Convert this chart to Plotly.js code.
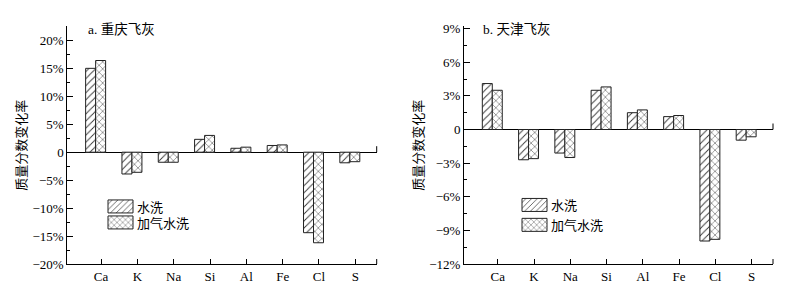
<!DOCTYPE html>
<html>
<head>
<meta charset="utf-8">
<script src="https://cdn.plot.ly/plotly-3.0.1.min.js"></script>
<style>html,body{margin:0;padding:0;background:#fff}#chart{width:793px;height:300px}</style>
</head>
<body>
<div id="chart"></div>
<script>
// ---- data ----
const categories = ['Ca', 'K', 'Na', 'Si', 'Al', 'Fe', 'Cl', 'S'];
const seriesNames = ['水洗', '加气水洗'];
// a. 重庆飞灰 (percent)
const chongqingWash = [15.0, -3.9, -1.8, 2.3, 0.7, 1.2, -14.4, -1.9];
const chongqingAirWash = [16.4, -3.6, -1.8, 3.0, 0.9, 1.3, -16.2, -1.7];
// b. 天津飞灰 (percent)
const tianjinWash = [4.1, -2.7, -2.1, 3.5, 1.5, 1.15, -9.95, -0.95];
const tianjinAirWash = [3.5, -2.6, -2.5, 3.8, 1.75, 1.25, -9.8, -0.65];
const panelTitles = ['a. 重庆飞灰', 'b. 天津飞灰'];
const yTitle = '质量分数变化率';
const yTickValsA = [20, 15, 10, 5, 0, -5, -10, -15, -20];
const yTickTextA = ['20%', '15%', '10%', '5%', '0', '\u22125%', '\u221210%', '\u221215%', '\u221220%'];
const yTickValsB = [9, 6, 3, 0, -3, -6, -9, -12];
const yTickTextB = ['9%', '6%', '3%', '0', '\u22123%', '\u22126%', '\u22129%', '\u221212%'];

// ---- style ----
const serif = 'Liberation Serif, Times New Roman, Noto Sans CJK SC, serif';
const cjk = 'Liberation Serif, Noto Sans CJK SC, sans-serif';
const barW = 0.275;
function barTrace(x, y, name, shape, xa, ya, leg, off) {
  return {
    type: 'bar', x: x, y: y, name: name, xaxis: xa, yaxis: ya, legend: leg,
    width: barW, offset: off,
    marker: {color: '#ffffff', line: {color: '#222', width: 1},
      pattern: {shape: shape, fgcolor: '#333', bgcolor: '#ffffff', size: 5, solidity: 0.18}},
    hoverinfo: 'skip'
  };
}
const data = [
  barTrace(categories, chongqingWash, seriesNames[0], '/', 'x', 'y', 'legend', -0.425),
  barTrace(categories, chongqingAirWash, seriesNames[1], 'x', 'x', 'y', 'legend', -0.15),
  barTrace(categories, tianjinWash, seriesNames[0], '/', 'x2', 'y2', 'legend2', -0.425),
  barTrace(categories, tianjinAirWash, seriesNames[1], 'x', 'x2', 'y2', 'legend2', -0.15)
];
function xax(domain, anchor) {
  return {domain: domain, anchor: anchor, type: 'category', range: [-0.93, 7.59],
    showline: true, linecolor: '#000', linewidth: 1, ticks: 'inside', ticklen: 5,
    tickcolor: '#000', tickwidth: 1, showgrid: false, zeroline: false,
    tickfont: {family: serif, size: 13, color: '#000'}, fixedrange: true};
}
function yax(domain, anchor, range, vals, text, minorDt) {
  return {domain: domain, anchor: anchor, range: range, showline: true, linecolor: '#000',
    linewidth: 1, ticks: 'inside', ticklen: 6, tickcolor: '#000', tickwidth: 1,
    tickvals: vals, ticktext: text, showgrid: false, zeroline: true, zerolinecolor: '#000',
    zerolinewidth: 1,
    minor: {dtick: minorDt, tick0: 0, ticks: 'inside', ticklen: 3, tickcolor: '#000', showgrid: false},
    tickfont: {family: serif, size: 13, color: '#000'},
    title: {text: yTitle, font: {family: cjk, size: 13, color: '#000'}, standoff: 2},
    fixedrange: true};
}
const yDom = [0.12, 0.912];
const layout = {
  width: 793, height: 300, margin: {l: 0, r: 0, t: 0, b: 0},
  paper_bgcolor: '#fff', plot_bgcolor: '#fff', barmode: 'overlay',
  xaxis: xax([67.3 / 793, 376.7 / 793], 'y'),
  yaxis: yax(yDom, 'x', [-20, 22.5], yTickValsA, yTickTextA, 2.5),
  xaxis2: xax([464 / 793, 773 / 793], 'y2'),
  yaxis2: yax(yDom, 'x2', [-12, 9.2], yTickValsB, yTickTextB, 1.5),
  legend: {x: 97 / 793, xanchor: 'left', y: 1 - 191.5 / 300, yanchor: 'top',
    bgcolor: 'rgba(0,0,0,0)', borderwidth: 0, font: {family: cjk, size: 13, color: '#000'},
    tracegroupgap: 0, itemclick: false, itemdoubleclick: false},
  legend2: {x: 511 / 793, xanchor: 'left', y: 1 - 190 / 300, yanchor: 'top',
    bgcolor: 'rgba(0,0,0,0)', borderwidth: 0, font: {family: cjk, size: 13, color: '#000'},
    tracegroupgap: 0, itemclick: false, itemdoubleclick: false},
  annotations: [
    {text: panelTitles[0], xref: 'paper', yref: 'paper', x: 86 / 793, y: 1 - 29 / 300,
     xanchor: 'left', yanchor: 'middle', showarrow: false, font: {family: cjk, size: 13.5, color: '#000'}},
    {text: panelTitles[1], xref: 'paper', yref: 'paper', x: 481 / 793, y: 1 - 29 / 300,
     xanchor: 'left', yanchor: 'middle', showarrow: false, font: {family: cjk, size: 13.5, color: '#000'}}
  ],
  shapes: [
    {type: 'line', xref: 'x domain', yref: 'y', x0: 1, x1: 1, ysizemode: 'pixel', yanchor: 0, y0: 0, y1: 6, line: {color: '#000', width: 1}},
    {type: 'line', xref: 'x2 domain', yref: 'y2', x0: 1, x1: 1, ysizemode: 'pixel', yanchor: 0, y0: 0, y1: 6, line: {color: '#000', width: 1}},
    {type: 'line', xref: 'x domain', yref: 'y domain', x0: 1, x1: 1, ysizemode: 'pixel', yanchor: 0, y0: 0, y1: 5, line: {color: '#000', width: 1}},
    {type: 'line', xref: 'x2 domain', yref: 'y2 domain', x0: 1, x1: 1, ysizemode: 'pixel', yanchor: 0, y0: 0, y1: 5, line: {color: '#000', width: 1}}
  ],
  font: {family: serif, color: '#000'}
};
Plotly.newPlot('chart', data, layout, {staticPlot: true, displayModeBar: false}).then(function () {
  document.querySelectorAll('.legendpoints path').forEach(function (p) {
    p.setAttribute('d', 'M16,6.5H-9V-6.5H16Z');
  });
  document.querySelectorAll('.legend').forEach(function (lg) {
    const items = lg.querySelectorAll('g.traces');
    if (items.length < 2) return;
    const m = /translate\(\s*([-\d.]+)[ ,]+([-\d.]+)\s*\)/.exec(items[0].getAttribute('transform') || '');
    if (!m) return;
    const x0 = parseFloat(m[1]), y0 = parseFloat(m[2]);
    items.forEach(function (it, i) {
      it.setAttribute('transform', 'translate(' + x0 + ',' + (y0 + i * 16) + ')');
    });
  });
});
</script>
</body>
</html>
